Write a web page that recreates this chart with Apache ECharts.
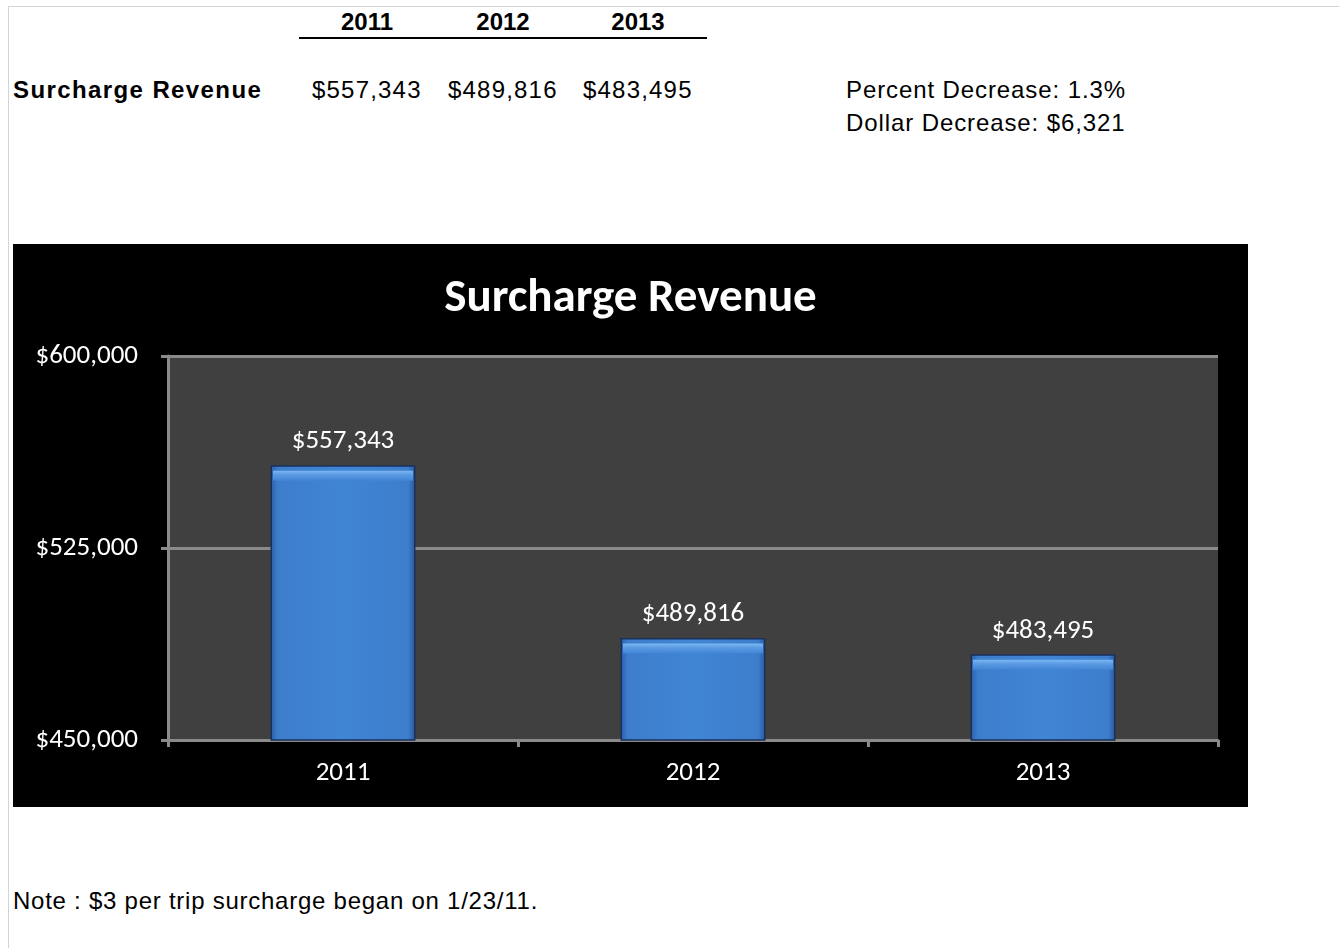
<!DOCTYPE html>
<html>
<head>
<meta charset="utf-8">
<title>Surcharge Revenue</title>
<script src="https://cdn.jsdelivr.net/npm/echarts@6/dist/echarts.min.js"></script>
<style>
  html, body {
    margin: 0;
    padding: 0;
    background: #fff;
    width: 1339px;
    height: 948px;
    overflow: hidden;
  }
  .page {
    position: absolute;
    left: 8px;
    top: 6px;
    right: 0;
    bottom: 0;
    border-top: 1px solid #d4d4d4;
    border-left: 1px solid #d4d4d4;
  }
  .txt {
    position: absolute;
    font-family: "Liberation Sans", Arial, sans-serif;
    font-size: 24px;
    color: #000;
    white-space: nowrap;
    line-height: 1;
  }
  .bold { font-weight: bold; }
  .year { width: 120px; text-align: center; }
  .rule {
    position: absolute;
    left: 299px;
    top: 37px;
    width: 408px;
    height: 2px;
    background: #000;
  }
  #chart_surcharge {
    position: absolute;
    left: 13px;
    top: 244px;
    width: 1235px;
    height: 563px;
  }
</style>
</head>
<body>
<div class="page"></div>
<div class="rule"></div>
<div id="chart_surcharge"></div>

<script>
// data
const years = ['2011', '2012', '2013'];
const revenue = [557343, 489816, 483495];
const yTicks = [450000, 525000, 600000];
const percentDecrease = '1.3%';
const dollarDecrease = '$6,321';
const noteText = 'Note : $3 per trip surcharge began on 1/23/11.';

const money = v => '$' + v.toLocaleString('en-US');

// top table (plain text, not part of the chart)
function addText (text, left, top, cls, style) {
  let el = document.createElement('div');
  el.className = 'txt ' + (cls || '');
  el.textContent = text;
  el.style.left = left + 'px';
  el.style.top = top + 'px';
  Object.assign(el.style, style || {});
  document.body.appendChild(el);
  return el;
}

const colX = [367, 503, 638];
years.forEach((y, i) => {
  addText(y, colX[i] - 60, 10, 'bold year');
});
addText('Surcharge Revenue', 13, 78, 'bold', {letterSpacing: '1.4px'});
revenue.forEach((v, i) => {
  addText(money(v), colX[i] - 55, 78, '', {letterSpacing: '1.2px'});
});
addText('Percent Decrease: ' + percentDecrease, 846, 78, '', {letterSpacing: '0.9px'});
addText('Dollar Decrease: ' + dollarDecrease, 846, 111, '', {letterSpacing: '0.9px'});
addText(noteText, 13, 889, '', {letterSpacing: '0.75px'});

// chart
const chartFont = 'Carlito, Lato, "Open Sans", sans-serif';
const myChart = echarts.init(document.getElementById('chart_surcharge'));
let option = {
  backgroundColor: '#000',
  animation: false,
  title: {
    text: 'Surcharge Revenue',
    left: 'center',
    top: 27,
    textStyle: {
      color: '#fff',
      fontFamily: chartFont,
      fontWeight: 'bold',
      fontSize: 47
    }
  },
  grid: {
    left: 155,
    right: 30,
    top: 112,
    bottom: 67,
    show: true,
    backgroundColor: '#404040',
    borderWidth: 0
  },
  xAxis: {
    type: 'category',
    data: years,
    axisLine: {
      lineStyle: { color: '#8a8a8a', width: 3 }
    },
    axisTick: {
      show: true,
      length: 7,
      lineStyle: { color: '#8a8a8a', width: 3 }
    },
    axisLabel: {
      color: '#fff',
      fontFamily: chartFont,
      fontSize: 27,
      margin: 20
    }
  },
  yAxis: {
    type: 'value',
    min: yTicks[0],
    max: yTicks[yTicks.length - 1],
    interval: yTicks[1] - yTicks[0],
    axisLine: {
      show: true,
      lineStyle: { color: '#8a8a8a', width: 3 }
    },
    axisTick: {
      show: true,
      length: 7,
      lineStyle: { color: '#8a8a8a', width: 3 }
    },
    splitLine: {
      lineStyle: { color: '#8a8a8a', width: 3 }
    },
    axisLabel: {
      color: '#fff',
      fontFamily: chartFont,
      fontSize: 27,
      margin: 30,
      formatter: v => money(v)
    }
  },
  series: [
    {
      name: 'Surcharge Revenue',
      type: 'bar',
      data: revenue,
      barWidth: 145,
      barGap: '-100%',
      z: 2,
      itemStyle: {
        color: new echarts.graphic.LinearGradient(0, 0, 1, 0, [
          { offset: 0, color: '#2c5ea6' },
          { offset: 0.05, color: '#3d7dcc' },
          { offset: 0.5, color: '#4185d5' },
          { offset: 0.95, color: '#3d7dcc' },
          { offset: 1, color: '#28569a' }
        ]),
        borderColor: '#18305c',
        borderWidth: 1.5
      },
      label: {
        show: true,
        position: 'top',
        distance: 10,
        color: '#fff',
        fontFamily: chartFont,
        fontSize: 27,
        formatter: p => money(p.value)
      }
    },
    {
      // light bevel along the top of each bar
      name: 'bevel',
      type: 'pictorialBar',
      data: revenue,
      barGap: '-100%',
      z: 3,
      silent: true,
      symbol: 'rect',
      symbolSize: [140, 10],
      symbolPosition: 'end',
      symbolOffset: [0, '55%'],
      itemStyle: {
        color: new echarts.graphic.LinearGradient(0, 0, 0, 1, [
          { offset: 0, color: '#7ab8f4' },
          { offset: 0.4, color: '#5c9be2' },
          { offset: 1, color: '#4185d5' }
        ])
      }
    }
  ]
};
myChart.setOption(option);
</script>
</body>
</html>
